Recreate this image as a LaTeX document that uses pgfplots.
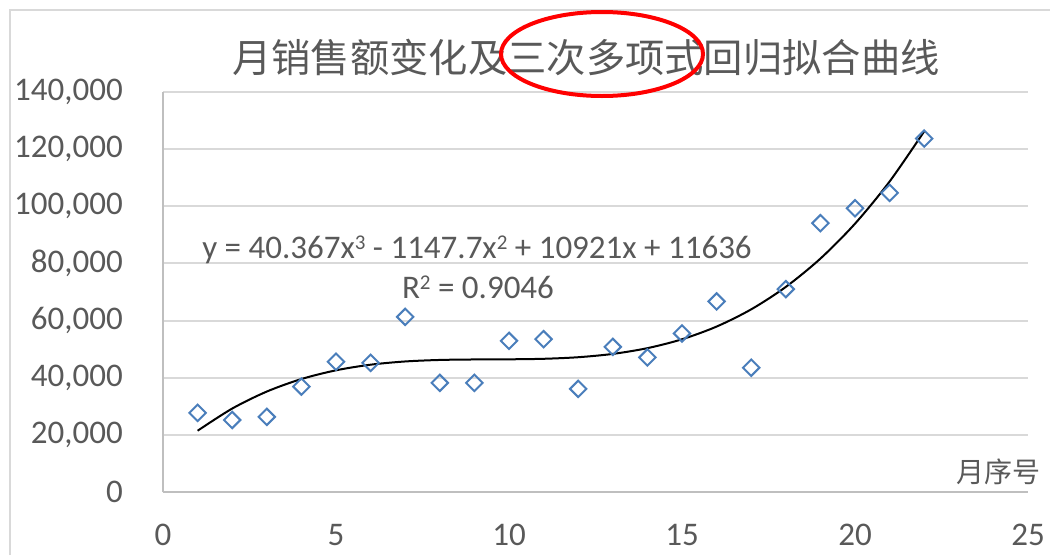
\documentclass[border=0pt]{standalone}
\usepackage{fontspec}
\setmainfont{Carlito}
\newfontfamily\cjk{Noto Sans CJK SC}
\usepackage{pgfplots}
\pgfplotsset{compat=1.18}
\definecolor{txt}{HTML}{595959}
\definecolor{gridc}{HTML}{D9D9D9}
\definecolor{axln}{HTML}{BFBFBF}
\definecolor{mk}{HTML}{4A7EBB}
\newcommand{\supx}[1]{\raisebox{9pt}{\fontsize{21}{21}\selectfont #1}}
\begin{document}
\begin{tikzpicture}[x=1pt,y=1pt]
\useasboundingbox (0,0) rectangle (1050,-555);
\fill[white] (0,0) rectangle (1050,-555);
\draw[gridc, line width=2pt] (10,-555) -- (10,-10) -- (1050,-10);
\begin{axis}[
  at={(163pt,-492pt)}, anchor=south west,
  scale only axis, width=865pt, height=400pt,
  xmin=0, xmax=25, ymin=0, ymax=140000,
  xtick={0,5,...,25}, ytick={0,20000,...,140000},
  axis lines=left,
  axis line style={-, draw=axln, line width=2pt},
  ymajorgrids, grid style={draw=gridc, line width=2pt},
  major tick length=0pt,
  scaled y ticks=false,
  /pgf/number format/.cd, fixed, 1000 sep={,}, assume math mode=true, /pgfplots/.cd,
  tick label style={font=\fontsize{33}{40}\selectfont, text=txt},
  yticklabel style={anchor=east, inner sep=0pt, xshift=-40pt},
  xticklabel style={anchor=north, inner sep=0pt, yshift=-32pt},
  clip=false,
]
\addplot[only marks, mark=square, mark size=5.8pt,
  mark options={rotate=45, draw=mk, line width=2pt, fill=none}] coordinates {
(1,27700) (2,25200) (3,26300) (4,36900) (5,45600) (6,45200) (7,61300)
(8,38200) (9,38200) (10,52900) (11,53500) (12,36100) (13,50800) (14,47100)
(15,55500) (16,66700) (17,43500) (18,71000) (19,94100) (20,99300)
(21,104700) (22,123700)
};
\addplot[black, line width=2pt, smooth, no marks] coordinates {
(1,21450) (2,29210) (3,35160) (4,39540) (5,42594) (6,44564) (7,45692)
(8,46219) (9,46389) (10,46443) (11,46624) (12,47173) (13,48334) (14,50348)
(15,53457) (16,57904) (17,63931) (18,71780) (19,81693) (20,93912)
(21,108680) (22,126239)
};
\end{axis}
\node[text=txt, font=\fontsize{33}{40}\selectfont, anchor=base] at (477,-258)
  {y = 40.367x\supx{3} - 1147.7x\supx{2} + 10921x + 11636};
\node[text=txt, font=\fontsize{33}{40}\selectfont, anchor=base] at (478,-298)
  {R\supx{2} = 0.9046};
\node[text=txt, font=\cjk\fontsize{39.3}{44}\selectfont] at (586,-57)
  {月销售额变化及三次多项式回归拟合曲线};
\draw[red, line width=4pt] (602,-54) ellipse [x radius=101, y radius=42];
\node[text=txt, font=\cjk\fontsize{28}{32}\selectfont] at (998,-472) {月序号};
\end{tikzpicture}
\end{document}
